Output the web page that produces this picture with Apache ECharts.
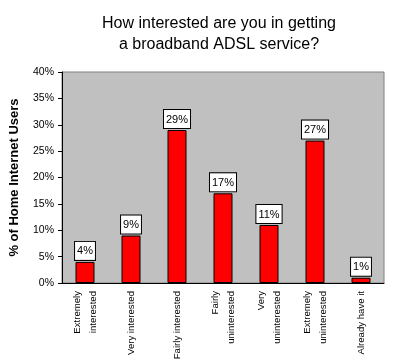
<!DOCTYPE html>
<html>
<head>
<meta charset="utf-8">
<script src="https://cdn.jsdelivr.net/npm/echarts@6/dist/echarts.min.js"></script>
<style>html,body{margin:0;padding:0;background:#fff}#c{width:406px;height:364px}</style>
</head>
<body>
<div id="c"></div>
<script>
var categories = ["Extremely\ninterested", "Very interested", "Fairly interested", "Fairly\nuninterested", "Very\nuninterested", "Extremely\nuninterested", "Already have it"];
var values = [4, 9, 29, 17, 11, 27, 1];
var yTicks = [0, 5, 10, 15, 20, 25, 30, 35, 40];

var font = 'Arial, "Liberation Sans", sans-serif';
var chart = echarts.init(document.getElementById('c'));
chart.setOption({
  animation: false,
  backgroundColor: '#fff',
  title: {
    text: 'How interested are you in getting\na broadband ADSL service?',
    left: 214, top: 8, textAlign: 'center',
    textStyle: { fontFamily: font, fontSize: 16, fontWeight: 'normal', color: '#000', lineHeight: 21 }
  },
  grid: { left: 62, right: 22, top: 72, bottom: 81, containLabel: false, outerBoundsMode: 'none', show: true, backgroundColor: '#C0C0C0', borderColor: '#808080', borderWidth: 1 },
  xAxis: {
    type: 'category', data: categories,
    axisLine: { lineStyle: { color: '#000', width: 1 } },
    axisTick: { show: false },
    axisLabel: { rotate: 90, interval: 0, margin: 8, fontFamily: font, fontSize: 9.6, color: '#000', lineHeight: 16 }
  },
  yAxis: {
    type: 'value', min: 0, max: 40, interval: 5,
    name: '% of Home Internet Users', nameLocation: 'middle', nameGap: 41,
    nameTextStyle: { fontFamily: font, fontSize: 13, fontWeight: 'bold', color: '#000' },
    axisLine: { show: true, lineStyle: { color: '#000', width: 1 } },
    axisTick: { show: true, length: 4, lineStyle: { color: '#000' } },
    splitLine: { show: false },
    axisLabel: { margin: 8, fontFamily: font, fontSize: 10.5, color: '#000', formatter: function (v) { return yTicks.indexOf(v) >= 0 ? v + '%' : ''; } }
  },
  series: [{
    type: 'bar', data: values, barWidth: 19,
    itemStyle: { color: '#FF0000', borderColor: '#000', borderWidth: 1 },
    label: {
      show: true, position: 'top', distance: 2,
      formatter: function (p) { return p.value + '%'; },
      fontFamily: font, fontSize: 11, color: '#000',
      backgroundColor: '#fff', borderColor: '#000', borderWidth: 1,
      padding: [4, 2, 3, 2]
    }
  }]
});
</script>
</body>
</html>
